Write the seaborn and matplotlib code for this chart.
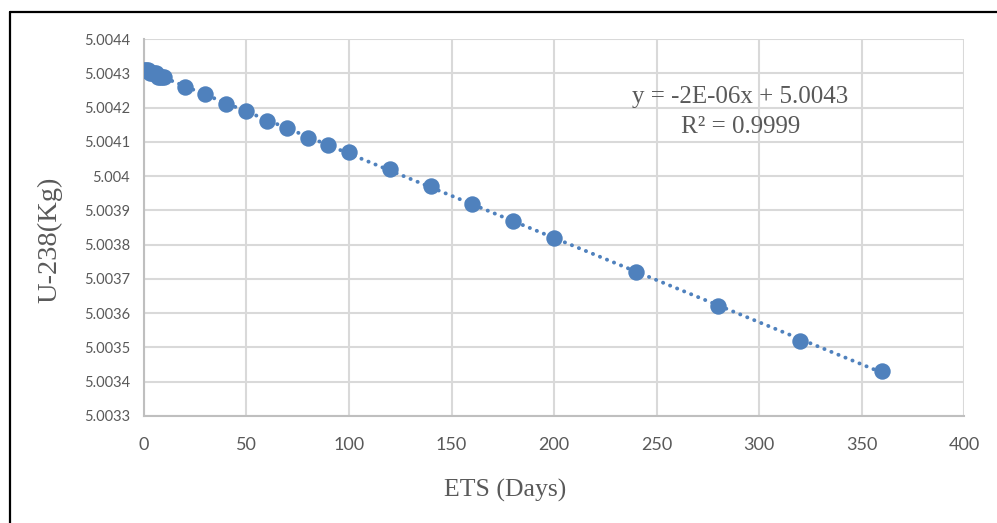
import matplotlib
matplotlib.use("Agg")
import matplotlib.pyplot as plt
from matplotlib.lines import Line2D
import numpy as np
import pandas as pd
import seaborn as sns

days = [0, 1, 2, 3, 4, 5, 6, 7, 8, 9, 10, 20, 30, 40, 50, 60, 70, 80, 90, 100,
        120, 140, 160, 180, 200, 240, 280, 320, 360]
u238 = [5.00431, 5.00431, 5.00431, 5.00430, 5.00430, 5.00430, 5.00430, 5.00429,
        5.00429, 5.00429, 5.00429, 5.00426, 5.00424, 5.00421, 5.00419, 5.00416,
        5.00414, 5.00411, 5.00409, 5.00407, 5.00402, 5.00397, 5.00392, 5.00387,
        5.00382, 5.00372, 5.00362, 5.00352, 5.00343]

x_ticks = [0, 50, 100, 150, 200, 250, 300, 350, 400]
y_ticks = [5.0033, 5.0034, 5.0035, 5.0036, 5.0037, 5.0038, 5.0039, 5.0040,
           5.0041, 5.0042, 5.0043, 5.0044]
y_labels = ["5.0033", "5.0034", "5.0035", "5.0036", "5.0037", "5.0038", "5.0039",
            "5.004", "5.0041", "5.0042", "5.0043", "5.0044"]

df = pd.DataFrame({"days": days, "u238": u238})

sns.set_theme(style="white")
plt.rcParams["font.family"] = ["Lato", "DejaVu Sans"]

blue = "#4f81bd"
grey_text = "#595959"

fig = plt.figure(figsize=(9.97, 5.23), dpi=100)
ax = fig.add_axes([0.1444, 0.2046, 0.967 - 0.1444, 0.9254 - 0.2046])

sns.regplot(data=df, x="days", y="u238", ax=ax, scatter=False, ci=None,
            line_kws={"color": blue, "linestyle": (0, (0.05, 1.9)), "linewidth": 2.8,
                      "dash_capstyle": "round"})
sns.scatterplot(data=df, x="days", y="u238", ax=ax, color=blue, s=140,
                edgecolor=blue, linewidth=0, zorder=3)

ax.set_xlim(0, 400)
ax.set_ylim(5.0033, 5.0044)
ax.set_xticks(x_ticks)
ax.set_yticks(y_ticks)
ax.set_yticklabels(y_labels)
ax.tick_params(axis="x", length=0, pad=15, labelsize=13, labelcolor=grey_text)
ax.tick_params(axis="y", length=0, pad=10, labelsize=10.5, labelcolor=grey_text)
ax.grid(True, color="#d9d9d9", linewidth=1.5)
ax.set_axisbelow(True)
for side in ["top", "right"]:
    ax.spines[side].set_visible(False)
for side in ["left", "bottom"]:
    ax.spines[side].set_color("#bfbfbf")
    ax.spines[side].set_linewidth(1.5)

serif = ["Liberation Serif", "DejaVu Serif"]
ax.set_xlabel("ETS (Days)", fontsize=18.5, color=grey_text, family=serif)
ax.set_ylabel("U-238(Kg)", fontsize=20.5, color=grey_text, family=serif)
ax.xaxis.set_label_coords(0.44, -0.168)
ax.yaxis.set_label_coords(-0.1, 0.467)

ax.text(291, 5.004187, "y = -2E-06x + 5.0043\nR² = 0.9999", ha="center", va="center",
        multialignment="center", fontsize=18, color=grey_text, family=serif,
        linespacing=1.52)

# outer frame (left and top edges visible)
fig.add_artist(Line2D([10 / 997, 10 / 997], [0, 1 - 12 / 523], transform=fig.transFigure,
                      color="black", linewidth=1.6))
fig.add_artist(Line2D([10 / 997, 1], [1 - 12 / 523, 1 - 12 / 523], transform=fig.transFigure,
                      color="black", linewidth=1.6))

fig.savefig("out.png", dpi=100, facecolor="white")
